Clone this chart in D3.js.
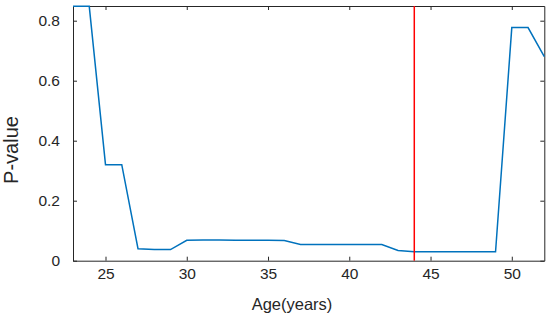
<!DOCTYPE html>
<html><head><meta charset="utf-8">
<script src="https://cdn.jsdelivr.net/npm/d3@7"></script>
<style>body{margin:0;background:#fff}</style>
</head><body>
<svg id="c" width="550" height="321"></svg>
<script>
const ages = [23,24,25,26,27,28,29,30,31,32,33,34,35,36,37,38,39,40,41,42,43,44,45,46,47,48,49,50,51,52];
const pvalues = [0.848,0.848,0.32,0.32,0.04,0.037,0.037,0.068,0.069,0.069,0.068,0.068,0.068,0.067,0.054,0.054,0.054,0.054,0.054,0.054,0.034,0.03,0.03,0.03,0.03,0.03,0.03,0.777,0.777,0.68];
const xTicks = [25,30,35,40,45,50];
const yTicks = [0,0.2,0.4,0.6,0.8];
const yTickLabels = ["0","0.2","0.4","0.6","0.8"];
const markerAge = [44];

const svg = d3.select("#c");
const L=73, R=544.3, T=6, B=260.7;
const x = d3.scaleLinear().domain([23,52]).range([L,R]);
const y = d3.scaleLinear().domain([0,0.849]).range([B,T]);
const ax = "#262626";
const font = "Liberation Sans, Arial, sans-serif";

const gx = svg.append("g").attr("transform",`translate(0,${B})`)
  .call(d3.axisBottom(x).tickValues(xTicks).tickSizeInner(-4).tickSizeOuter(0).tickPadding(7).tickFormat(d3.format("d")));
const gxt = svg.append("g").attr("transform",`translate(0,${T})`)
  .call(d3.axisTop(x).tickValues(xTicks).tickSizeInner(-4).tickSizeOuter(0).tickFormat(""));
const gy = svg.append("g").attr("transform",`translate(${L},0)`)
  .call(d3.axisLeft(y).tickValues(yTicks).tickSizeInner(-4).tickSizeOuter(0).tickPadding(13).tickFormat((d,i)=>yTickLabels[i]));
const gyr = svg.append("g").attr("transform",`translate(${R},0)`)
  .call(d3.axisRight(y).tickValues(yTicks).tickSizeInner(-4).tickSizeOuter(0).tickFormat(""));
[gx,gxt,gy,gyr].forEach(g=>{
  g.selectAll("path.domain").attr("stroke",ax).attr("stroke-width",1);
  g.selectAll("line").attr("stroke",ax);
  g.selectAll("text").attr("fill","#262626").style("font-family",font).style("font-size","15.5px");
});

svg.append("path").datum(ages.map((a,i)=>[a,pvalues[i]]))
  .attr("fill","none").attr("stroke","#0072BD").attr("stroke-width",1.5)
  .attr("d", d3.line().x(d=>x(d[0])).y(d=>y(d[1])));

svg.selectAll(".mk").data(markerAge).enter().append("line")
  .attr("x1",d=>x(d)).attr("x2",d=>x(d)).attr("y1",T).attr("y2",B)
  .attr("stroke","#FF0000").attr("stroke-width",1.5);

svg.append("text").attr("x",292).attr("y",310).attr("text-anchor","middle")
  .style("font-family",font).style("font-size","16.5px").attr("fill","#262626").text("Age(years)");
svg.append("text").attr("transform",`translate(17.5,150) rotate(-90)`).attr("text-anchor","middle")
  .style("font-family",font).style("font-size","20px").attr("fill","#262626").text("P-value");
</script>
</body></html>
